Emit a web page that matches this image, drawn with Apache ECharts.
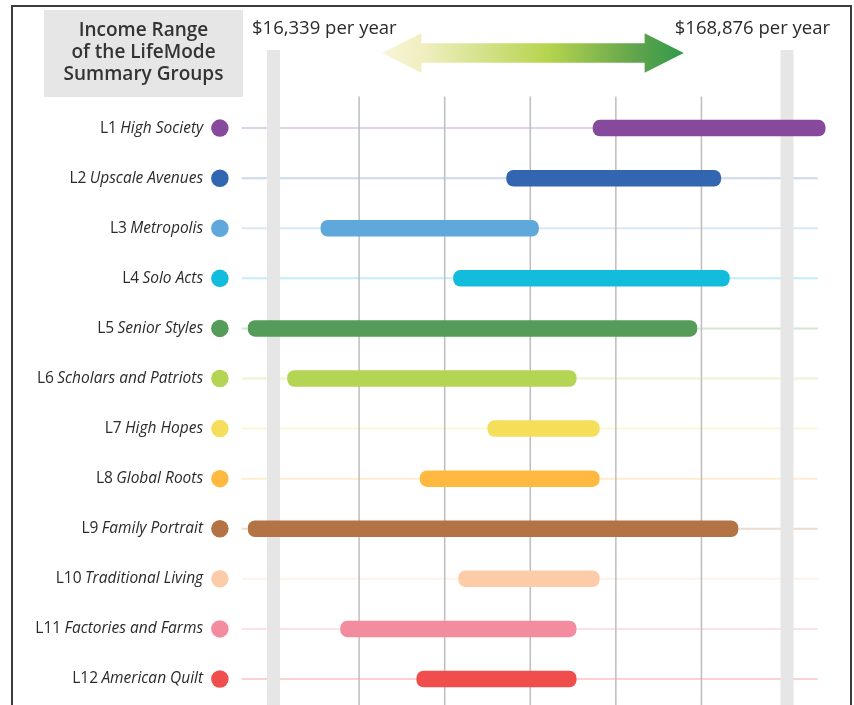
<!DOCTYPE html>
<html>
<head>
<meta charset="utf-8">
<title>Income Range of the LifeMode Summary Groups</title>
<script src="https://cdn.jsdelivr.net/npm/echarts@6/dist/echarts.min.js"></script>
<style>
  html, body { margin: 0; padding: 0; background: #fff; }
  #main { width: 854px; height: 705px; }
</style>
</head>
<body>
<div id="main"></div>
<script>
// groups, top to bottom
var codes = ['L1', 'L2', 'L3', 'L4', 'L5', 'L6', 'L7', 'L8', 'L9', 'L10', 'L11', 'L12'];
var names = ['High Society', 'Upscale Avenues', 'Metropolis', 'Solo Acts', 'Senior Styles',
  'Scholars and Patriots', 'High Hopes', 'Global Roots', 'Family Portrait',
  'Traditional Living', 'Factories and Farms', 'American Quilt'];
var colors = ['#87499b', '#3366b0', '#5ea8dc', '#12bcdc', '#559b5a', '#b4d454',
  '#f5de5a', '#ffb940', '#b37344', '#fccca8', '#f48ca0', '#f04e4c'];
// income range of each group, in grid steps (0 = left band, 6 = right band)
var lowEnd = [3.73, 2.72, 0.55, 2.10, -0.30, 0.16, 2.50, 1.71, -0.30, 2.16, 0.78, 1.67];
var highEnd = [6.45, 5.23, 3.10, 5.33, 4.95, 3.54, 3.81, 3.81, 5.43, 3.81, 3.54, 3.54];
var gridTicks = [0, 1, 2, 3, 4, 5, 6];
var rangeLabels = ['$16,339 per year', '$168,876 per year'];
var titleLines = ['Income Range', 'of the LifeMode', 'Summary Groups'];

var chartDom = document.getElementById('main');
var myChart = echarts.init(chartDom);
var option;

var Y_MIN = -1.56, Y_MAX = 11.52;
var FONT = '"Open Sans", Lato, sans-serif';

option = {
  animation: false,
  grid: { left: 16.8, right: 24.2, top: 50, bottom: -2.3 },
  xAxis: { type: 'value', min: -3, max: 6.5, show: false },
  yAxis: { type: 'value', min: Y_MIN, max: Y_MAX, inverse: true, show: false },
  graphic: [
    { type: 'rect', shape: { x: 12, y: 6, width: 839, height: 720 },
      style: { fill: 'none', stroke: '#3c3c3c', lineWidth: 2 }, z: 10 },
    { type: 'rect', shape: { x: 44, y: 10, width: 199, height: 87 },
      style: { fill: '#e6e6e6' } },
    { type: 'text', x: 143.5, y: 20,
      style: { text: titleLines.join('\n'), align: 'center', verticalAlign: 'top',
        fontFamily: FONT, fontSize: 19, fontWeight: 600, lineHeight: 21.7, fill: '#333' } },
    { type: 'text', x: 252, y: 29,
      style: { text: rangeLabels[0], align: 'left', verticalAlign: 'middle',
        fontFamily: FONT, fontSize: 18.5, fill: '#2a2a2a' } },
    { type: 'text', x: 830, y: 29,
      style: { text: rangeLabels[1], align: 'right', verticalAlign: 'middle',
        fontFamily: FONT, fontSize: 18.5, fill: '#2a2a2a' } },
    { type: 'polygon',
      shape: { points: [[382, 53], [421.4, 33.3], [421.4, 43.3], [644.6, 43.3], [644.6, 33.3],
        [683.8, 53], [644.6, 72.7], [644.6, 62.7], [421.4, 62.7], [421.4, 72.7]] },
      style: {
        fill: new echarts.graphic.LinearGradient(0, 0, 1, 0, [
          { offset: 0, color: '#f8f5d8' },
          { offset: 0.15, color: '#eeeebd' },
          { offset: 0.55, color: '#b6d44e' },
          { offset: 0.85, color: '#5ea34c' },
          { offset: 1, color: '#2f9a4a' }
        ])
      } }
  ],
  series: [
    {
      // faint row guides
      type: 'custom',
      data: codes.map(function (c, i) { return [i]; }),
      encode: { y: 0 },
      renderItem: function (params, api) {
        var i = api.value(0);
        var a = api.coord([-0.37, i]);
        var b = api.coord([6.36, i]);
        return { type: 'line', shape: { x1: a[0], y1: a[1], x2: b[0], y2: b[1] },
          style: { stroke: colors[i], lineWidth: 2, opacity: 0.25 } };
      },
      z: 1
    },
    {
      // vertical grid lines and edge bands
      type: 'custom',
      data: gridTicks.map(function (v) { return [v]; }),
      encode: { x: 0 },
      renderItem: function (params, api) {
        var v = api.value(0);
        var edge = v === gridTicks[0] || v === gridTicks[gridTicks.length - 1];
        var top = api.coord([v, edge ? Y_MIN : -0.63]);
        var bot = api.coord([v, Y_MAX]);
        return { type: 'line', shape: { x1: top[0], y1: top[1], x2: bot[0], y2: bot[1] },
          style: { stroke: edge ? '#e6e6e6' : '#bdbdbd', lineWidth: edge ? 13 : 1.5 } };
      },
      z: 2
    },
    {
      // income range bars
      type: 'custom',
      data: codes.map(function (c, i) { return [lowEnd[i], highEnd[i], i]; }),
      encode: { x: [0, 1], y: 2 },
      renderItem: function (params, api) {
        var i = api.value(2);
        var a = api.coord([api.value(0), i]);
        var b = api.coord([api.value(1), i]);
        var h = 16.5;
        return { type: 'rect',
          shape: { x: a[0], y: a[1] - h / 2, width: b[0] - a[0], height: h, r: 7 },
          style: { fill: colors[i] } };
      },
      z: 3
    },
    {
      // colored dots with group names
      type: 'scatter',
      symbolSize: 17.5,
      clip: false,
      data: codes.map(function (c, i) {
        return { value: [-0.627, i], itemStyle: { color: colors[i], opacity: 1 } };
      }),
      label: {
        show: true,
        position: 'left',
        distance: 8,
        formatter: function (p) {
          return '{a|' + codes[p.dataIndex] + '} {b|' + names[p.dataIndex] + '}';
        },
        rich: {
          a: { fontFamily: FONT, fontSize: 15.5, color: '#2a2a2a' },
          b: { fontFamily: FONT, fontSize: 15.5, fontStyle: 'italic', color: '#2a2a2a' }
        }
      },
      z: 4
    }
  ]
};

option && myChart.setOption(option);
</script>
</body>
</html>
